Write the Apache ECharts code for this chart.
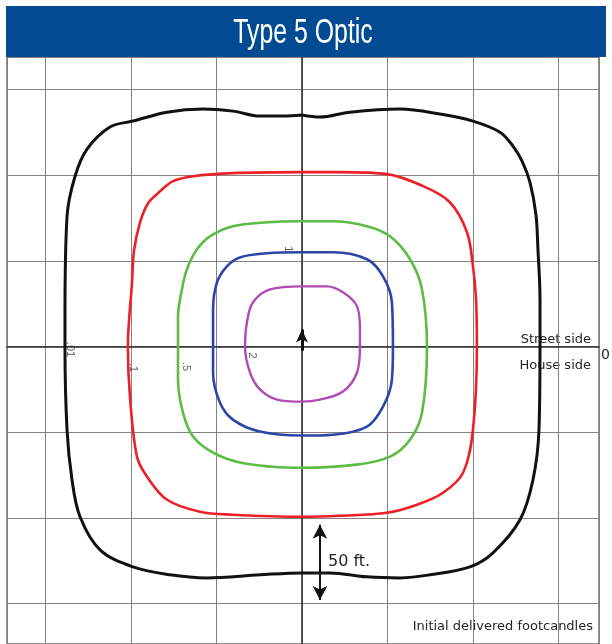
<!DOCTYPE html>
<html>
<head>
<meta charset="utf-8">
<script src="https://cdn.jsdelivr.net/npm/echarts@6/dist/echarts.min.js"></script>
<style>
html,body{margin:0;padding:0;background:#fff;}
#chart{width:612px;height:644px;}
</style>
</head>
<body>
<div id="chart"></div>
<script>
// Isofootcandle contours, coordinates in feet from the luminaire (x: along street, y: street side +)
const contour001 = [[0,135.1],[10.5,133.9],[28.1,136.8],[57.3,138.6],[80.7,135.7],[100,131.6],[115.8,125.1],[123.4,117],[128.7,108.2],[133.3,95.9],[136.8,77.2],[138,56.7],[139.2,27.5],[139.2,0],[138.6,-48.5],[135.1,-77.8],[127.5,-101.2],[111.7,-120.5],[98.2,-128.7],[74.9,-133.3],[57.3,-135.1],[38,-134.5],[16.4,-132.2],[0,-132.2],[-24.6,-133.3],[-55.6,-135.1],[-77.2,-133.3],[-98.8,-128.7],[-118.1,-118.7],[-129.8,-99.4],[-134.5,-77.8],[-137.4,-48.5],[-138.6,0],[-138.6,17.5],[-137.4,76],[-132.7,99.4],[-125.7,115.2],[-112.3,128.1],[-98.8,131.6],[-78.9,136.8],[-57.9,138.6],[-40.4,137.4],[-24.6,134.5],[-11.1,134.5],[0,135.1]];
const contour01 = [[0,101.8],[22.2,101.8],[49.7,100.6],[70.8,93.6],[86.5,84.2],[96.5,66.7],[100,46.8],[101.8,27.5],[102.3,0],[100,-48.5],[94.2,-73.7],[82.5,-85.4],[67.3,-92.4],[49.7,-97.1],[22.2,-98.8],[0,-99.4],[-40.4,-98.2],[-59.6,-96.5],[-78.9,-89.5],[-90.6,-76],[-96.5,-64.3],[-100.6,-29.2],[-101.8,0],[-99.4,37.4],[-98.2,56.1],[-94.7,72.5],[-90,83.6],[-84.2,89.5],[-75.4,96.5],[-63.7,99.4],[-40.4,101.2],[0,101.8]];
const contour05 = [[0,73.1],[18.1,73.1],[38,70.2],[51.5,64.3],[63.2,50.9],[70.2,33.3],[73.1,0],[70.2,-38.6],[63.2,-54.4],[51.5,-64.3],[32.2,-69],[0,-70.8],[-17,-70.2],[-36.3,-67.8],[-52,-62],[-63.7,-52.6],[-69.6,-38.6],[-72.5,-19.3],[-72.5,0],[-72.5,17.5],[-70.2,33.3],[-67.3,45],[-61.4,56.7],[-53.8,64.3],[-40.4,70.2],[-20.5,72.5],[0,73.1]];
const contour1 = [[0,55],[18.1,55],[38,50.9],[47.4,40.9],[52.6,25.7],[53.2,0],[52.6,-19.3],[47.4,-35.1],[38,-46.8],[18.1,-51.5],[0,-52],[-24.6,-49.7],[-40.4,-42.7],[-48,-32.7],[-52,-15.2],[-52,0],[-52,21.6],[-49.7,37.4],[-43.9,46.8],[-36.3,52],[-20.5,54.4],[0,55]];
const contour2 = [[0,35.1],[14.6,35.1],[24,31.6],[32.2,23.4],[33.9,9.9],[33.9,0],[32.2,-15.2],[24,-26.3],[10.5,-31],[0,-32.2],[-14.6,-31],[-24.6,-25.1],[-30.4,-15.2],[-33.3,0],[-32.2,14],[-28.7,25.7],[-18.7,33.3],[0,35.1]];
const contourNames = ['.01', '.1', '.5', '1', '2'];
const labelPoints = [[-135.7,-1.8],[-98.8,-12.3],[-67.8,-11.7],[-8.2,56.7],[-29.2,-5.3]];
const scaleArrow = [[10.5,-104.1],[10.5,-148]];
const centerArrow = [[0,-2.5],[0,9.9]];

const chart = echarts.init(document.getElementById('chart'), null, {renderer:'canvas'});
const colors = ['#111111', '#ec2127', '#5cbc45', '#2c46a8', '#b24cb5'];
const widths = [3, 2.6, 2.6, 2.6, 2.4];
const contours = [contour001, contour01, contour05, contour1, contour2];

const series = contours.map((d, i) => ({
  type: 'line', name: contourNames[i], data: d, symbol: 'none', smooth: 0.35,
  lineStyle: {color: colors[i], width: widths[i]}, silent: true, z: 3
}));
series.push({
  type: 'scatter', data: labelPoints.map((p, i) => ({value: p, name: contourNames[i]})),
  symbolSize: 0, silent: true, z: 5,
  label: {show: true, position: 'inside', formatter: p => p.name, rotate: -90,
    fontSize: 11, color: '#3a3a3a', fontFamily: 'Liberation Sans, Arial, sans-serif'}
});
series.push({
  type: 'line', data: [], silent: true,
  markLine: {
    silent: true, animation: false, label: {show: false},
    lineStyle: {color: '#111', width: 2, type: 'solid'},
    data: [
      [{coord: scaleArrow[0], symbol: 'arrow', symbolSize: [11, 14]}, {coord: scaleArrow[1], symbol: 'arrow', symbolSize: [11, 14]}],
      [{coord: centerArrow[0], symbol: 'none', lineStyle: {width: 3}}, {coord: centerArrow[1], symbol: 'arrow', symbolSize: [9, 13]}]
    ]
  }
});

const txt = (x, y, text, size, align, extra) => Object.assign({
  type: 'text', x: x, y: y, silent: true,
  style: {text: text, fontSize: size, fontFamily: 'DejaVu Sans, sans-serif', fill: '#262626',
    textAlign: align || 'left', textVerticalAlign: 'middle'}
}, extra || {});

chart.setOption({
  animation: false,
  backgroundColor: '#ffffff',
  grid: {left: 7, right: 13, top: 57, bottom: 0, show: true, borderColor: '#6e6e6e', borderWidth: 1.5},
  xAxis: {
    type: 'value', min: -172.5, max: 173.7,
    axisLine: {show: true, onZero: true, lineStyle: {color: '#2b2b2b', width: 1.5}},
    axisTick: {show: false}, axisLabel: {show: false},
    splitLine: {show: true, lineStyle: {color: '#8a8080', width: 1}}
  },
  yAxis: {
    type: 'value', min: -173.7, max: 169,
    axisLine: {show: true, onZero: true, lineStyle: {color: '#2b2b2b', width: 1.5}},
    axisTick: {show: false}, axisLabel: {show: false},
    splitLine: {show: true, lineStyle: {color: '#8a8080', width: 1}}
  },
  graphic: [
    {type: 'rect', shape: {x: 6, y: 6, width: 600, height: 51}, style: {fill: '#024b92'}, silent: true, z: 10},
    {type: 'text', x: 303, y: 33, scaleX: 0.71, silent: true, z: 11,
      style: {text: 'Type 5 Optic', fontSize: 35, fontFamily: 'Liberation Sans, Arial, sans-serif', fill: '#ffffff',
        textAlign: 'center', textVerticalAlign: 'middle'}},
    txt(591, 340, 'Street side', 13, 'right'),
    txt(591, 366, 'House side', 13, 'right'),
    txt(601, 355, '0', 14, 'left'),
    txt(593, 627, 'Initial delivered footcandles', 13, 'right'),
    txt(328, 562, '50 ft.', 16, 'left')
  ],
  series: series
});
</script>
</body>
</html>
